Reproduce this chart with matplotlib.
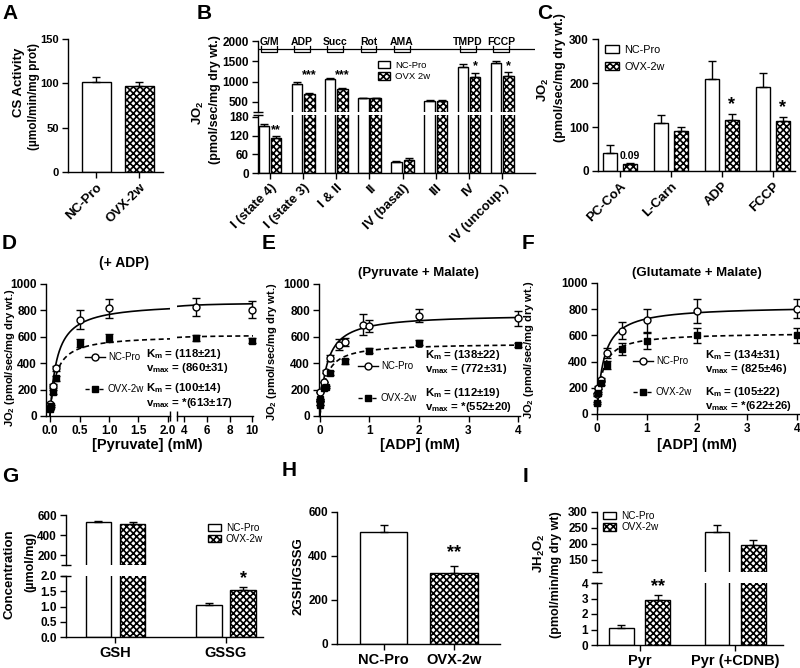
import numpy as np
import matplotlib
matplotlib.use('Agg')
import matplotlib.pyplot as plt
from matplotlib.patches import Patch
from matplotlib.lines import Line2D

plt.rcParams['font.family'] = ['Liberation Sans', 'DejaVu Sans']
plt.rcParams['font.weight'] = 'bold'
plt.rcParams['axes.labelweight'] = 'bold'
plt.rcParams['mathtext.default'] = 'regular'
plt.rcParams['hatch.linewidth'] = 1.2
plt.rcParams['axes.linewidth'] = 1.0
plt.rcParams['xtick.major.width'] = 1.0
plt.rcParams['ytick.major.width'] = 1.0
plt.rcParams['xtick.major.size'] = 4
plt.rcParams['ytick.major.size'] = 4
plt.rcParams['xtick.major.pad'] = 2.5
plt.rcParams['ytick.major.pad'] = 2.5
plt.rcParams['xtick.labelsize'] = 8.5
plt.rcParams['ytick.labelsize'] = 8.5

# ======================= data =======================
groups = ['NC-Pro', 'OVX-2w']

# A: citrate synthase activity
cs_activity = [102, 97]
cs_activity_err = [5, 4]

# B: respiration protocol
states_B = ['I (state 4)', 'I (state 3)', 'I & II', 'II', 'IV (basal)', 'III', 'IV', 'IV (uncoup.)']
nc_B = [150, 940, 1070, 590, 35, 530, 1360, 1450]
nc_err_B = [8, 40, 30, 20, 3, 20, 70, 70]
ovx_B = [113, 700, 810, 590, 43, 530, 1120, 1150]
ovx_err_B = [5, 30, 25, 20, 4, 20, 100, 90]
sig_B = ['**', '***', '***', '', '', '', '*', '*']
sig_y_B = [138, 1164, 1164, 0, 0, 0, 1385, 1385]
inject_B = ['G/M', 'ADP', 'Succ', 'Rot', 'AMA', '', 'TMPD', 'FCCP']

# C: fatty acid respiration
subs_C = ['PC-CoA', 'L-Carn', 'ADP', 'FCCP']
nc_C = [42, 110, 208, 192]
nc_err_C = [17, 18, 42, 30]
ovx_C = [15, 90, 117, 113]
ovx_err_C = [3, 10, 13, 10]
sig_C = ['0.09', '', '*', '*']
sig_y_C = [35, 0, 152, 145]

# D: pyruvate titration (+ADP)
pyr_nc = [0.0, 0.05, 0.1, 0.5, 1.0, 5.0, 10.0]
jo2_nc_D = [90, 230, 360, 730, 815, 825, 805]
jo2_nc_err_D = [10, 15, 20, 70, 70, 70, 65]
pyr_ovx = [0.0, 0.01, 0.05, 0.1, 0.5, 1.0, 5.0, 10.0]
jo2_ovx_D = [50, 75, 180, 285, 555, 590, 590, 570]
jo2_ovx_err_D = [5, 8, 15, 20, 30, 30, 25, 20]
km_D = [118, 100]      # uM
vmax_D = [860, 613]
fit_text_D = ['K$_m$ = (118±21)', 'v$_{max}$ = (860±31)', 'K$_m$ = (100±14)', 'v$_{max}$ = *(613±17)']

# E: ADP titration (pyruvate + malate)
adp_nc_E = [0.0, 0.01, 0.075, 0.125, 0.2, 0.375, 0.5, 0.875, 1.0, 2.0, 4.0]
jo2_nc_E = [110, 185, 260, 335, 440, 540, 560, 690, 680, 760, 740]
jo2_nc_err_E = [0, 0, 0, 10, 20, 40, 30, 80, 45, 50, 55]
adp_ovx_E = [0.0, 0.01, 0.075, 0.125, 0.2, 0.5, 1.0, 2.0, 4.0]
jo2_ovx_E = [80, 130, 210, 220, 325, 415, 495, 555, 540]
jo2_ovx_err_E = [0, 0, 10, 10, 15, 20, 20, 20, 15]
km_E = [138, 112]
vmax_E = [772, 552]
fit_text_E = ['K$_m$ = (138±22)', 'v$_{max}$ = (772±31)', 'K$_m$ = (112±19)', 'v$_{max}$ = *(552±20)']

# F: ADP titration (glutamate + malate)
adp_F = [0.0, 0.01, 0.075, 0.2, 0.5, 1.0, 2.0, 4.0]
jo2_nc_F = [150, 200, 260, 465, 635, 715, 785, 805]
jo2_nc_err_F = [10, 10, 15, 40, 65, 90, 90, 70]
jo2_ovx_F = [85, 160, 240, 375, 495, 555, 600, 600]
jo2_ovx_err_F = [10, 10, 15, 30, 45, 60, 55, 55]
km_F = [134, 105]
vmax_F = [825, 622]
fit_text_F = ['K$_m$ = (134±31)', 'v$_{max}$ = (825±46)', 'K$_m$ = (105±22)', 'v$_{max}$ = *(622±26)']

# G: glutathione
species_G = ['GSH', 'GSSG']
nc_G = [530, 1.05]
nc_err_G = [15, 0.07]
ovx_G = [515, 1.55]
ovx_err_G = [15, 0.10]

# H: redox ratio
ratio_H = [510, 325]
ratio_err_H = [30, 30]

# I: H2O2 emission
conds_I = ['Pyr', 'Pyr (+CDNB)']
nc_I = [1.1, 237]
nc_err_I = [0.2, 22]
ovx_I = [2.9, 198]
ovx_err_I = [0.35, 15]

# ======================= helpers =======================
W, H = 800, 668
fig = plt.figure(figsize=(W / 100, H / 100), dpi=100)
HATCH = 'xxxxx'


def add_ax(l, t, r, b):
    ax = fig.add_axes([l / W, 1 - b / H, (r - l) / W, (b - t) / H])
    ax.set_facecolor('none')
    ax.spines['top'].set_visible(False)
    ax.spines['right'].set_visible(False)
    return ax


def no_xaxis(ax):
    ax.spines['bottom'].set_visible(False)
    ax.tick_params(axis='x', bottom=False, labelbottom=False)


def ftext(x, y, s, **kw):
    kw.setdefault('ha', 'center')
    kw.setdefault('va', 'center')
    return fig.text(x / W, 1 - y / H, s, **kw)


def bars(ax, xs, vals, errs, hatched, width):
    ax.bar(xs, vals, width, facecolor='white', edgecolor='black', linewidth=1.0,
           hatch=HATCH if hatched else None, zorder=2)
    ax.errorbar(xs, vals, yerr=[np.zeros(len(vals)), errs], fmt='none', ecolor='black',
                elinewidth=1.0, capsize=3, capthick=1.0, zorder=3)


def cap_y(ax, where):
    ax.plot([0], [where], marker='_', ms=7, mew=1.0, color='black',
            transform=ax.transAxes, clip_on=False, zorder=5)


def cap_x(ax, where):
    ax.plot([where], [0], marker='|', ms=7, mew=1.0, color='black',
            transform=ax.transAxes, clip_on=False, zorder=5)


def bar_legend(ax, x, ytop, fs, spacing, labels):
    handles = [Patch(facecolor='white', edgecolor='black', linewidth=1.0),
               Patch(facecolor='white', edgecolor='black', linewidth=1.0, hatch=HATCH)]
    ax.legend(handles, labels, loc='upper left', bbox_to_anchor=(x / W, 1 - ytop / H),
              bbox_transform=fig.transFigure, frameon=False,
              prop={'size': fs, 'weight': 'normal'}, borderpad=0, borderaxespad=0,
              handlelength=1.3, handleheight=0.8, handletextpad=0.5, labelspacing=spacing)


def line_legend(ax, x, ytop, fs, spacing, labels):
    handles = [Line2D([], [], color='k', lw=1.0, ls='-', marker='o', mfc='white', mec='k', ms=5),
               Line2D([], [], color='k', lw=1.0, ls=(0, (3, 2)), marker='s', mfc='k', mec='k', ms=4.5)]
    ax.legend(handles, labels, loc='upper left', bbox_to_anchor=(x / W, 1 - ytop / H),
              bbox_transform=fig.transFigure, frameon=False,
              prop={'size': fs, 'weight': 'normal'}, borderpad=0, borderaxespad=0,
              handlelength=2.1, handletextpad=0.25, labelspacing=spacing, numpoints=1)


def mm(s, km_um, vmax):
    s = np.asarray(s)
    return vmax * s / (km_um / 1000.0 + s)


def points(ax, x, y, err, hollow, mask=None):
    x = np.asarray(x); y = np.asarray(y); err = np.asarray(err)
    if mask is not None:
        x, y, err = x[mask], y[mask], err[mask]
    if hollow:
        ax.errorbar(x, y, yerr=err, fmt='o', ms=5, mfc='white', mec='k', mew=1.0, ecolor='k',
                    elinewidth=1.0, capsize=3, capthick=1.0, zorder=4, clip_on=False)
    else:
        ax.errorbar(x, y, yerr=err, fmt='s', ms=4.5, mfc='k', mec='k', ecolor='k',
                    elinewidth=1.0, capsize=3, capthick=1.0, zorder=4, clip_on=False)


def curves(ax, lo, hi, km, vmax):
    s = np.linspace(lo, hi, 300)
    ax.plot(s, mm(s, km[0], vmax[0]), color='k', lw=1.2, zorder=3)
    ax.plot(s, mm(s, km[1], vmax[1]), color='k', lw=1.2, ls=(0, (3, 2)), zorder=3)


# panel letters
for letter, x, y in [('A', 2, 19), ('B', 197, 19), ('C', 537, 19), ('D', 2, 249), ('E', 262, 249),
                     ('F', 522, 249), ('G', 2, 482), ('H', 282, 476), ('I', 523, 482)]:
    ftext(x, y, letter, fontsize=15, fontweight='bold', ha='left', va='baseline')

# ======================= A =======================
axA = add_ax(68, 39, 163, 172)
bars(axA, [0], [cs_activity[0]], [cs_activity_err[0]], False, 0.67)
bars(axA, [1], [cs_activity[1]], [cs_activity_err[1]], True, 0.67)
axA.set_ylim(0, 150)
axA.set_yticks([0, 50, 100, 150])
axA.tick_params(axis='y', labelsize=8)
axA.set_xlim(-0.66, 1.55)
axA.set_xticks([0, 1])
axA.set_xticklabels(groups, rotation=45, ha='right', rotation_mode='anchor', fontsize=9.5)
ftext(19, 82, 'CS Activity', rotation=90, fontsize=9.5)
ftext(34, 96, '(µmol/min/mg prot)', rotation=90, fontsize=8.5)

# ======================= B =======================
xB = np.arange(len(states_B))
offB, wB = 0.186, 0.315
axBu = add_ax(258, 41, 535, 112)
axBl = add_ax(258, 115, 535, 173)
for ax in (axBu, axBl):
    bars(ax, xB - offB, nc_B, nc_err_B, False, wB)
    bars(ax, xB + offB, ovx_B, ovx_err_B, True, wB)
    ax.set_xlim(-0.36, 7.99)
axBu.set_ylim(254, 2000)
axBu.set_yticks([500, 1000, 1500, 2000])
no_xaxis(axBu)
axBl.set_ylim(0, 186)
axBl.set_yticks([0, 60, 120, 180])
axBl.set_xticks(xB)
axBl.set_xticklabels(states_B, rotation=45, ha='right', rotation_mode='anchor', fontsize=9.5)
cap_y(axBu, 0)
cap_y(axBl, 1)
axBu.axhline(1800, color='k', lw=0.9, zorder=1)
for i, lab in enumerate(inject_B):
    if lab:
        x0, x1 = i - 0.27, i + 0.21
        axBu.plot([x0, x0, x1, x1], [1870, 1730, 1730, 1870], color='k', lw=0.9, clip_on=False)
        axBu.text(i - 0.03, 1905, lab, ha='center', va='baseline', fontsize=7.5, clip_on=False)
for i, s in enumerate(sig_B):
    if s:
        ax = axBl if ovx_B[i] < 186 else axBu
        ax.text(xB[i] + offB, sig_y_B[i], s, ha='center', va='center', fontsize=9)
bar_legend(axBu, 378, 61, 6.8, 0.25, ['NC-Pro', 'OVX 2w'])
ftext(198, 113, 'JO$_2$', rotation=90, fontsize=9.5)
ftext(215, 100, '(pmol/sec/mg dry wt.)', rotation=90, fontsize=9)

# ======================= C =======================
xC = np.arange(len(subs_C))
offC, wC = 0.19, 0.27
axC = add_ax(598, 39, 795, 171)
bars(axC, xC - offC, nc_C, nc_err_C, False, wC)
bars(axC, xC + offC, ovx_C, ovx_err_C, True, wC)
axC.set_xlim(-0.43, 3.43)
axC.set_ylim(0, 300)
axC.set_yticks([0, 100, 200, 300])
axC.set_xticks(xC)
axC.set_xticklabels(subs_C, rotation=45, ha='right', rotation_mode='anchor', fontsize=9.5)
for i, s in enumerate(sig_C):
    if s:
        axC.text(xC[i] + offC, sig_y_C[i], s, ha='center', va='center',
                 fontsize=7.5 if s[0].isdigit() else 13)
bar_legend(axC, 605, 45, 7.8, 0.6, ['NC-Pro', 'OVX-2w'])
ftext(543, 90, 'JO$_2$', rotation=90, fontsize=9.5)
ftext(560, 78, '(pmol/sec/mg dry wt.)', rotation=90, fontsize=9)

# ======================= D =======================
axDl = add_ax(46, 284, 170, 416)
axDr = add_ax(177, 284, 253, 416)
axDl.set_xlim(-0.068, 2.034)
axDr.set_xlim(3.356, 10.06)
for ax in (axDl, axDr):
    ax.set_ylim(0, 1000)
curves(axDl, 0, 2.034, km_D, vmax_D)
curves(axDr, 3.356, 10.06, km_D, vmax_D)
mnc = np.asarray(pyr_nc) <= 2.1
movx = np.asarray(pyr_ovx) <= 2.1
points(axDl, pyr_nc, jo2_nc_D, jo2_nc_err_D, True, mnc)
points(axDr, pyr_nc, jo2_nc_D, jo2_nc_err_D, True, ~mnc)
points(axDl, pyr_ovx, jo2_ovx_D, jo2_ovx_err_D, False, movx)
points(axDr, pyr_ovx, jo2_ovx_D, jo2_ovx_err_D, False, ~movx)
axDl.set_yticks([0, 200, 400, 600, 800, 1000])
axDl.set_xticks([0, 0.5, 1.0, 1.5, 2.0])
axDl.set_xticklabels(['0.0', '0.5', '1.0', '1.5', '2.0'])
axDr.spines['left'].set_visible(False)
axDr.tick_params(axis='y', left=False, labelleft=False)
axDr.set_xticks([4, 6, 8, 10])
cap_x(axDl, 1)
cap_x(axDr, 0)
line_legend(axDl, 85, 352, 7, 2.3, ['NC-Pro', 'OVX-2w'])
for txt, y in zip(fit_text_D, [354, 368, 388, 403]):
    ftext(146, y, txt, fontsize=8.2, ha='left')
ftext(124, 263, '(+ ADP)', fontsize=10)
ftext(147, 445, '[Pyruvate] (mM)', fontsize=10.5)
ftext(10, 358, 'JO$_2$ (pmol/sec/mg dry wt.)', rotation=90, fontsize=8)

# ======================= E =======================
axE = add_ax(319, 284, 520, 416)
axE.set_xlim(-0.02, 4.04)
axE.set_ylim(0, 1000)
curves(axE, 0, 4.04, km_E, vmax_E)
points(axE, adp_nc_E, jo2_nc_E, jo2_nc_err_E, True)
points(axE, adp_ovx_E, jo2_ovx_E, jo2_ovx_err_E, False)
axE.set_yticks([0, 200, 400, 600, 800, 1000])
axE.set_xticks([0, 1, 2, 3, 4])
line_legend(axE, 358, 361, 7, 2.3, ['NC-Pro', 'OVX-2w'])
for txt, y in zip(fit_text_E, [355, 369, 393, 407]):
    ftext(425, y, txt, fontsize=8.2, ha='left')
ftext(418, 273, '(Pyruvate + Malate)', fontsize=9.5)
ftext(420, 445, '[ADP] (mM)', fontsize=10.5)
ftext(272, 352, 'JO$_2$ (pmol/sec/mg dry wt.)', rotation=90, fontsize=8)

# ======================= F =======================
axF = add_ax(597, 283, 799, 414)
axF.set_xlim(0, 4.04)
axF.set_ylim(0, 1000)
curves(axF, 0, 4.04, km_F, vmax_F)
points(axF, adp_F, jo2_nc_F, jo2_nc_err_F, True)
points(axF, adp_F, jo2_ovx_F, jo2_ovx_err_F, False)
axF.set_yticks([0, 200, 400, 600, 800, 1000])
axF.set_xticks([0, 1, 2, 3, 4])
line_legend(axF, 633, 356, 7, 2.2, ['NC-Pro', 'OVX-2w'])
for txt, y in zip(fit_text_F, [355, 369, 392, 406]):
    ftext(705, y, txt, fontsize=8.2, ha='left')
ftext(697, 273, '(Glutamate + Malate)', fontsize=9.5)
ftext(697, 445, '[ADP] (mM)', fontsize=10.5)
ftext(529, 350, 'JO$_2$ (pmol/sec/mg dry wt.)', rotation=90, fontsize=8)

# ======================= G =======================
xG = np.arange(len(species_G))
offG, wG = 0.154, 0.235
axGu = add_ax(66, 515, 263, 565)
axGl = add_ax(66, 576, 263, 637)
for ax in (axGu, axGl):
    bars(ax, xG - offG, nc_G, nc_err_G, False, wG)
    bars(ax, xG + offG, ovx_G, ovx_err_G, True, wG)
    ax.set_xlim(-0.448, 1.335)
axGu.set_ylim(100, 600)
axGu.set_yticks([200, 400, 600])
no_xaxis(axGu)
axGl.set_ylim(0, 2.0)
axGl.set_yticks([0, 0.5, 1.0, 1.5, 2.0])
axGl.set_yticklabels(['0.0', '0.5', '1.0', '1.5', '2.0'])
axGl.set_xticks(xG)
axGl.set_xticklabels(species_G, fontsize=10.5)
cap_y(axGu, 0)
cap_y(axGl, 1)
axGl.text(1 + offG, 1.93, '*', ha='center', va='center', fontsize=13, clip_on=False)
bar_legend(axGu, 208, 523, 7.2, 0.1, ['NC-Pro', 'OVX-2w'])
ftext(10, 574, 'Concentration', rotation=90, fontsize=9.5)
ftext(30, 562, '(µmol/mg)', rotation=90, fontsize=9)

# ======================= H =======================
axH = add_ax(337, 512, 500, 644)
bars(axH, [0], [ratio_H[0]], [ratio_err_H[0]], False, 0.67)
bars(axH, [1], [ratio_H[1]], [ratio_err_H[1]], True, 0.67)
axH.set_xlim(-0.66, 1.65)
axH.set_ylim(0, 600)
axH.set_yticks([0, 200, 400, 600])
axH.set_xticks([0, 1])
axH.set_xticklabels(groups, fontsize=10.5)
axH.text(1, 414, '**', ha='center', va='center', fontsize=13)
ftext(298, 576, '2GSH/GSSG', rotation=90, fontsize=9.5)

# ======================= I =======================
xI = np.arange(len(conds_I))
offI, wI = 0.19, 0.26
axIu = add_ax(597, 512, 783, 572)
axIl = add_ax(597, 583, 783, 645)
for ax in (axIu, axIl):
    bars(ax, xI - offI, nc_I, nc_err_I, False, wI)
    bars(ax, xI + offI, ovx_I, ovx_err_I, True, wI)
    ax.set_xlim(-0.445, 1.50)
axIu.set_ylim(112.5, 300)
axIu.set_yticks([150, 200, 250, 300])
no_xaxis(axIu)
axIl.set_ylim(0, 4)
axIl.set_yticks([0, 1, 2, 3, 4])
axIl.set_xticks(xI)
axIl.set_xticklabels(conds_I, fontsize=10.5)
cap_y(axIu, 0)
cap_y(axIl, 1)
axIl.text(0 + offI, 3.8, '**', ha='center', va='center', fontsize=13, clip_on=False)
bar_legend(axIu, 603, 511, 7.2, 0.15, ['NC-Pro', 'OVX-2w'])
ftext(539, 553, 'JH$_2$O$_2$', rotation=90, fontsize=9.5)
ftext(556, 575, '(pmol/min/mg dry wt)', rotation=90, fontsize=9)

fig.savefig('out.png', dpi=100)
